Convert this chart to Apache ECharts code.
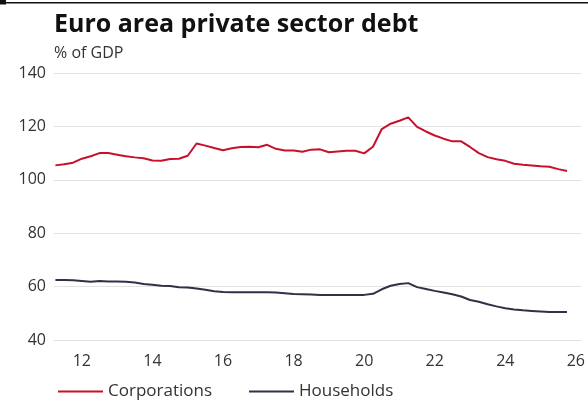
<!DOCTYPE html>
<html>
<head>
<meta charset="utf-8">
<script src="https://cdn.jsdelivr.net/npm/echarts@6/dist/echarts.min.js"></script>
<style>
  html, body { margin: 0; padding: 0; background: #fff; }
  #chart { width: 588px; height: 401px; }
</style>
</head>
<body>
<div id="chart"></div>
<script>
// Quarter-end observations, 2011 Q1 to 2025 Q3
const firstYear = 2011;
const quarters = [];
for (let y = firstYear; y <= 2025; y++) {
  for (let q = 1; q <= 4; q++) {
    if (y === 2025 && q > 3) break;
    quarters.push(y + 'Q' + q);
  }
}

// Debt as % of GDP
const corporations = [
  105.4, 105.8, 106.4, 107.9, 108.8, 110.0, 110.0, 109.4, 108.8, 108.4,
  108.1, 107.2, 107.1, 107.8, 107.9, 109.0, 113.6, 112.8, 111.9, 111.1,
  111.8, 112.3, 112.4, 112.2, 113.1, 111.6, 111.0, 111.0, 110.5, 111.3,
  111.4, 110.3, 110.6, 110.9, 110.9, 109.9, 112.4, 119.0, 121.0, 122.1,
  123.4, 119.8, 118.1, 116.6, 115.4, 114.4, 114.4, 112.3, 110.0, 108.5,
  107.7, 107.1, 106.0, 105.6, 105.4, 105.1, 104.9, 104.0, 103.3
];
const households = [
  62.5, 62.5, 62.4, 62.1, 61.8, 62.1, 61.9, 61.9, 61.8, 61.5,
  61.0, 60.7, 60.3, 60.2, 59.8, 59.7, 59.3, 58.8, 58.3, 58.0,
  57.9, 57.9, 57.9, 57.9, 57.9, 57.8, 57.5, 57.2, 57.1, 57.0,
  56.9, 56.9, 56.9, 56.9, 56.9, 56.9, 57.3, 59.0, 60.3, 61.0,
  61.3, 59.8, 59.1, 58.4, 57.8, 57.1, 56.3, 55.0, 54.3, 53.4,
  52.6, 51.9, 51.4, 51.1, 50.9, 50.7, 50.5, 50.5, 50.5
];

const yearTicks = [2012, 2014, 2016, 2018, 2020, 2022, 2024, 2026];
const yTicks = { min: 40, max: 140, step: 20 };

// "2011Q1" -> decimal year at the end of that quarter
function quarterEnd(label) {
  const [y, q] = label.split('Q').map(Number);
  return y + q / 4;
}
const pairs = (vals) => quarters.map((q, i) => [quarterEnd(q), vals[i]]);

const FONT = '"Open Sans", "Noto Sans", sans-serif';
const chart = echarts.init(document.getElementById('chart'), null, { renderer: 'canvas' });

chart.setOption({
  animation: false,
  backgroundColor: '#ffffff',
  textStyle: { fontFamily: FONT },
  graphic: [
    { type: 'rect', left: 0, top: 2, shape: { width: 588, height: 1.5 }, style: { fill: '#111' } },
    { type: 'rect', left: 0, top: 0, shape: { width: 6, height: 4.5 }, style: { fill: '#111' } },
    {
      type: 'text', left: 54, top: 12,
      style: { text: 'Euro area private sector debt', fill: '#111', font: 'bold 25px ' + FONT }
    },
    {
      type: 'text', left: 54, top: 45,
      style: { text: '% of GDP', fill: '#333', font: '16px ' + FONT }
    }
  ],
  grid: { left: 54, right: 0, top: 73, bottom: 61, containLabel: false },
  legend: {
    left: 58, top: 383, padding: 0,
    icon: 'rect', itemWidth: 45, itemHeight: 2, itemGap: 37,
    textStyle: { fontSize: 17, color: '#333', fontFamily: FONT },
    data: ['Corporations', 'Households']
  },
  xAxis: {
    type: 'value', min: 2011.21, max: 2026.14,
    axisLine: { show: false }, axisTick: { show: false }, splitLine: { show: false },
    axisLabel: {
      customValues: yearTicks,
      formatter: (v) => String(Math.round(v)).slice(2),
      fontSize: 16, color: '#333', margin: 13, fontFamily: FONT
    }
  },
  yAxis: {
    type: 'value', min: yTicks.min, max: yTicks.max, interval: yTicks.step,
    axisLine: { show: false }, axisTick: { show: false },
    splitLine: { lineStyle: { color: '#e2e2e2', width: 1 } },
    axisLabel: { fontSize: 16, color: '#333', margin: 8, fontFamily: FONT }
  },
  series: [
    {
      name: 'Corporations', type: 'line', data: pairs(corporations),
      showSymbol: false, lineStyle: { color: '#c8102e', width: 2 }, itemStyle: { color: '#c8102e' }
    },
    {
      name: 'Households', type: 'line', data: pairs(households),
      showSymbol: false, lineStyle: { color: '#2f3146', width: 2 }, itemStyle: { color: '#2f3146' }
    }
  ]
});
</script>
</body>
</html>
